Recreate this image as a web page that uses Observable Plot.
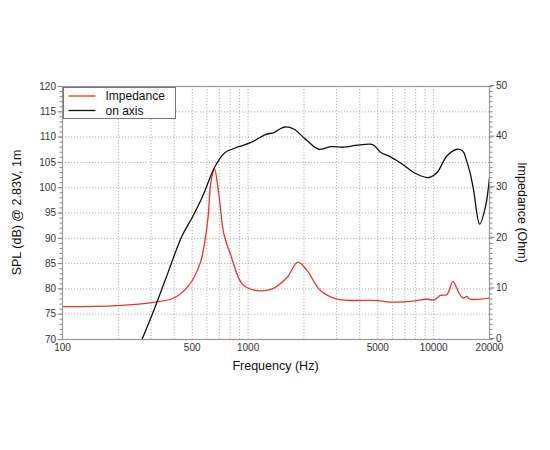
<!DOCTYPE html>
<html>
<head>
<meta charset="utf-8">
<script src="https://cdn.jsdelivr.net/npm/d3@7"></script>
<script src="https://cdn.jsdelivr.net/npm/@observablehq/plot@0.6"></script>
<style>
  html, body { margin: 0; padding: 0; background: #fff; }
</style>
</head>
<body>
<div id="chart"></div>
<script>
// Frequency (Hz) and on-axis SPL (dB)
const splFreq = [268, 310, 360, 441, 500, 566, 653, 700, 755, 891, 1031, 1242, 1377, 1500, 1589, 1762, 2037, 2403, 2780, 3281, 3873, 4564, 4800, 5166, 5847, 6760, 7810, 9220, 9600, 10440, 11810, 13370, 14000, 14520, 15000, 15780, 16440, 17700, 18990, 20000];
const splDb   = [70, 75.7, 82, 90.5, 94.1, 98.1, 103.7, 105.6, 107.0, 108.1, 108.9, 110.5, 110.9, 111.7, 112.0, 111.6, 109.6, 107.6, 108.1, 108.0, 108.4, 108.6, 108.3, 107.0, 106.1, 104.7, 103.0, 102.0, 102.1, 103.0, 106.3, 107.6, 107.5, 107.0, 105.5, 102.7, 99.4, 92.8, 96.1, 102.0];

// Frequency (Hz) and impedance (Ohm)
const impFreq = [100, 197, 317, 398, 480, 554, 606, 630, 659, 695, 740, 803, 929, 1097, 1349, 1625, 1855, 2081, 2455, 3020, 4963, 5850, 8150, 9220, 10000, 10890, 11810, 12700, 13640, 14410, 15140, 15600, 20000];
const impOhm  = [6.5, 6.7, 7.4, 8.2, 10.7, 15.3, 23.5, 31.0, 33.7, 28.8, 20.9, 16.9, 11.0, 9.7, 10.0, 12.3, 15.3, 13.6, 9.7, 8.0, 7.7, 7.4, 7.7, 8.0, 7.8, 8.7, 8.9, 11.5, 9.3, 8.2, 8.5, 8.0, 8.2];

const xTickValues = [100, 500, 1000, 5000, 10000, 20000];
const xGridValues = [200, 300, 400, 500, 600, 700, 800, 900, 1000, 2000, 3000, 4000, 5000, 6000, 7000, 8000, 9000, 10000];
const splTicks = [70, 75, 80, 85, 90, 95, 100, 105, 110, 115, 120];
const impTicks = [0, 10, 20, 30, 40, 50];
const splRange = [70, 120];
const impRange = [0, 50];

const seriesNames = ["Impedance", "on axis"];
const colors = ["#e8352b", "#111111"];
const xLabel = "Frequency (Hz)";
const yLeftLabel = "SPL (dB) @ 2.83V, 1m";
const yRightLabel = "Impedance (Ohm)";

// impedance mapped onto the SPL scale (same span of 50 units)
const impToSpl = z => splRange[0] + (z - impRange[0]) * (splRange[1] - splRange[0]) / (impRange[1] - impRange[0]);
const splToImp = s => impRange[0] + (s - splRange[0]) * (impRange[1] - impRange[0]) / (splRange[1] - splRange[0]);

const spl = splFreq.map((f, i) => ({f, v: splDb[i]}));
const imp = impFreq.map((f, i) => ({f, v: impToSpl(impOhm[i])}));

const minorLeft = d3.range(splRange[0], splRange[1] + 0.001, 1);
const minorRight = d3.range(impRange[0], impRange[1] + 0.001, 1).map(impToSpl);

const W = 550, H = 450;
const mL = 62, mR = 61, mT = 86, mB = 111;
const gridStyle = {stroke: "#9a9a9a", strokeOpacity: 0.75, strokeWidth: 1, strokeDasharray: "1.2,1.8"};

const plot = Plot.plot({
  width: W, height: H,
  marginLeft: mL, marginRight: mR, marginTop: mT, marginBottom: mB,
  style: {fontFamily: "'Liberation Sans', Arial, Helvetica, sans-serif", fontSize: "10px", background: "#fff", color: "#333"},
  x: {type: "log", domain: [100, 20000], axis: null},
  y: {domain: splRange},
  marks: [
    Plot.gridX(xGridValues, gridStyle),
    Plot.gridY(splTicks.slice(1, -1), gridStyle),
    Plot.text(xTickValues, {x: d => d, frameAnchor: "bottom", dy: 11, text: d => String(d), fill: "#333", fontSize: 10}),
    Plot.axisY(minorLeft, {anchor: "left", tickSize: 2.5, tickFormat: () => "", label: null, stroke: "#888"}),
    Plot.axisY(splTicks, {anchor: "left", tickSize: 4.5, tickPadding: 2, tickFormat: d => String(d), label: null, stroke: "#888", fill: "#333"}),
    Plot.axisY(minorRight, {anchor: "right", tickSize: 2.5, tickFormat: () => "", label: null, stroke: "#888"}),
    Plot.axisY(impTicks.map(impToSpl), {anchor: "right", tickSize: 4.5, tickPadding: 2, tickFormat: d => String(Math.round(splToImp(d))), label: null, stroke: "#888", fill: "#333", dy: -1}),
    Plot.line(imp, {x: "f", y: "v", stroke: colors[0], strokeWidth: 1.3, curve: "catmull-rom", clip: true}),
    Plot.line(spl, {x: "f", y: "v", stroke: colors[1], strokeWidth: 1.3, curve: "catmull-rom", clip: true}),
    Plot.frame({stroke: "#999", strokeWidth: 1.2})
  ]
});

document.getElementById("chart").appendChild(plot);

const svg = d3.select(plot);
const xs = plot.scale("x"), ys = plot.scale("y");
const pLeft = xs.range[0], pRight = xs.range[1];
const pTop = ys.range[1], pBottom = ys.range[0];
const font = "'Liberation Sans', Arial, Helvetica, sans-serif";

// axis titles
svg.append("text")
  .attr("x", (pLeft + pRight) / 2).attr("y", pBottom + 31)
  .attr("text-anchor", "middle").attr("font-family", font).attr("font-size", 12.5).attr("fill", "#111")
  .text(xLabel);
svg.append("text")
  .attr("transform", `translate(${pLeft - 41},${(pTop + pBottom) / 2}) rotate(-90)`)
  .attr("text-anchor", "middle").attr("font-family", font).attr("font-size", 12.5).attr("fill", "#111")
  .text(yLeftLabel);
svg.append("text")
  .attr("transform", `translate(${pRight + 29},${(pTop + pBottom) / 2}) rotate(90)`)
  .attr("text-anchor", "middle").attr("font-family", font).attr("font-size", 12.5).attr("fill", "#111")
  .text(yRightLabel);

// legend inside the plot, top-left
const lg = svg.append("g").attr("transform", `translate(${pLeft + 1.5},${pTop + 1.5})`);
lg.append("rect").attr("x", 0).attr("y", 0).attr("width", 112).attr("height", 31)
  .attr("fill", "#fff").attr("stroke", "#777").attr("stroke-width", 1);
seriesNames.forEach((name, i) => {
  const yy = 8.5 + i * 14.5;
  lg.append("line").attr("x1", 5).attr("x2", 32).attr("y1", yy).attr("y2", yy)
    .attr("stroke", colors[i]).attr("stroke-width", 1.3);
  lg.append("text").attr("x", 42).attr("y", yy).attr("dy", "0.35em")
    .attr("text-anchor", "start")
    .attr("font-family", font).attr("font-size", 12).attr("fill", "#111").text(name);
});
</script>
</body>
</html>
